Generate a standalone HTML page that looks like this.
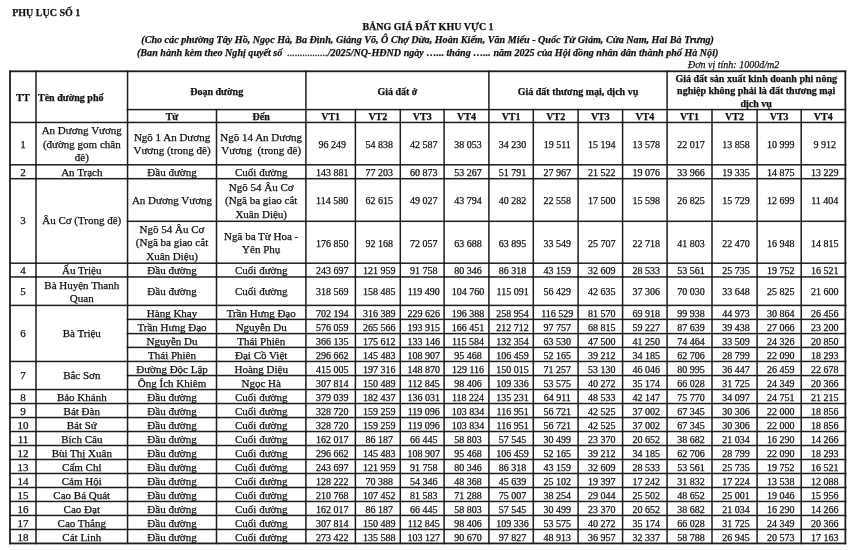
<!DOCTYPE html>
<html><head><meta charset="utf-8"><title>Bảng giá đất khu vực 1</title><style>
*{margin:0;padding:0;box-sizing:border-box}
html,body{width:855px;height:550px;overflow:hidden;background:#fff}
body{position:relative;font-family:"Liberation Serif",serif;color:#111;-webkit-text-stroke:0.25px #111}
#w{position:absolute;left:0;top:0;width:855px;height:550px;filter:grayscale(1)}
.l{position:absolute;background:#1e1e1e}
.c,.n,.h{position:absolute;text-align:center;white-space:nowrap}
.c{font-size:11px;line-height:13.5px}
.n{font-size:10px;line-height:13.5px;padding-left:3px}
.h{font-size:10px;line-height:12.4px;font-weight:bold}
.t{position:absolute;white-space:nowrap;font-size:10px;line-height:12px}
</style></head><body><div id="w">
<div class="t" style="left:12.2px;top:7.4px;font-weight:bold">PHỤ LỤC SỐ 1</div>
<div class="t" style="left:0;width:855px;text-align:center;top:21.3px;font-weight:bold;padding-left:1px">BẢNG GIÁ ĐẤT KHU VỰC 1</div>
<div class="t" style="left:141.3px;top:34.1px;font-weight:bold;font-style:italic;font-size:10.12px">(Cho các phường Tây Hồ, Ngọc Hà, Ba Đình, Giảng Võ, Ô Chợ Dừa, Hoàn Kiếm, Văn Miếu - Quốc Tử Giám, Cửa Nam, Hai Bà Trưng)</div>
<div class="t" style="left:137px;top:47.3px;font-weight:bold;font-style:italic;font-size:10.1px">(Ban hành kèm theo Nghị quyết số&nbsp; <span style="font-weight:normal">................</span>/2025/NQ-HĐND ngày …... tháng …... năm 2025 của Hội đồng nhân dân thành phố Hà Nội)</div>
<div class="t" style="left:688px;top:59.1px;font-style:italic">Đơn vị tính: 1000đ/m2</div>
<div class="h" style="left:10px;top:91.72px;width:26px;">TT</div>
<div class="h" style="left:36px;top:91.72px;width:91.55px;text-align:left;padding-left:2px">Tên đường phố</div>
<div class="h" style="left:127.55px;top:85.75px;width:178.35px;">Đoạn đường</div>
<div class="h" style="left:305.9px;top:85.75px;width:183px;">Giá đất ở</div>
<div class="h" style="left:488.9px;top:85.75px;width:178.2px;">Giá đất thương mại, dịch vụ</div>
<div class="h" style="left:667.1px;top:72.9px;width:178.25px;">Giá đất sản xuất kinh doanh phi nông<br>nghiệp không phải là đất thương mại<br>dịch vụ</div>
<div class="h" style="left:127.55px;top:110.88px;width:88.95px;">Từ</div>
<div class="h" style="left:216.5px;top:110.88px;width:89.4px;">Đến</div>
<div class="h" style="left:305.9px;top:110.88px;width:49.5px;">VT1</div>
<div class="h" style="left:355.4px;top:110.88px;width:44.9px;">VT2</div>
<div class="h" style="left:400.3px;top:110.88px;width:43.8px;">VT3</div>
<div class="h" style="left:444.1px;top:110.88px;width:44.8px;">VT4</div>
<div class="h" style="left:488.9px;top:110.88px;width:44.4px;">VT1</div>
<div class="h" style="left:533.3px;top:110.88px;width:44.8px;">VT2</div>
<div class="h" style="left:578.1px;top:110.88px;width:44.5px;">VT3</div>
<div class="h" style="left:622.6px;top:110.88px;width:44.5px;">VT4</div>
<div class="h" style="left:667.1px;top:110.88px;width:44.9px;">VT1</div>
<div class="h" style="left:712px;top:110.88px;width:45.1px;">VT2</div>
<div class="h" style="left:757.1px;top:110.88px;width:44.1px;">VT3</div>
<div class="h" style="left:801.2px;top:110.88px;width:44.15px;">VT4</div>
<div class="c" style="left:10px;top:137.72px;width:26px;">1</div>
<div class="c" style="left:36px;top:124.22px;width:91.55px;">An Dương Vương<br>(đường gom chân<br>đê)</div>
<div class="c" style="left:127.55px;top:130.97px;width:88.95px;">Ngõ 1 An Dương<br>Vương (trong đê)</div>
<div class="c" style="left:216.5px;top:130.97px;width:89.4px;">Ngõ 14 An Dương<br>Vương&nbsp; (trong đê)</div>
<div class="n" style="left:305.9px;top:137.93px;width:49.5px;">96 249</div>
<div class="n" style="left:355.4px;top:137.93px;width:44.9px;">54 838</div>
<div class="n" style="left:400.3px;top:137.93px;width:43.8px;">42 587</div>
<div class="n" style="left:444.1px;top:137.93px;width:44.8px;">38 053</div>
<div class="n" style="left:488.9px;top:137.93px;width:44.4px;">34 230</div>
<div class="n" style="left:533.3px;top:137.93px;width:44.8px;">19 511</div>
<div class="n" style="left:578.1px;top:137.93px;width:44.5px;">15 194</div>
<div class="n" style="left:622.6px;top:137.93px;width:44.5px;">13 578</div>
<div class="n" style="left:667.1px;top:137.93px;width:44.9px;">22 017</div>
<div class="n" style="left:712px;top:137.93px;width:45.1px;">13 858</div>
<div class="n" style="left:757.1px;top:137.93px;width:44.1px;">10 999</div>
<div class="n" style="left:801.2px;top:137.93px;width:44.15px;">9 912</div>
<div class="c" style="left:10px;top:165.85px;width:26px;">2</div>
<div class="c" style="left:36px;top:165.85px;width:91.55px;">An Trạch</div>
<div class="c" style="left:127.55px;top:165.85px;width:88.95px;">Đầu đường</div>
<div class="c" style="left:216.5px;top:165.85px;width:89.4px;">Cuối đường</div>
<div class="n" style="left:305.9px;top:166.05px;width:49.5px;">143 881</div>
<div class="n" style="left:355.4px;top:166.05px;width:44.9px;">77 203</div>
<div class="n" style="left:400.3px;top:166.05px;width:43.8px;">60 873</div>
<div class="n" style="left:444.1px;top:166.05px;width:44.8px;">53 267</div>
<div class="n" style="left:488.9px;top:166.05px;width:44.4px;">51 791</div>
<div class="n" style="left:533.3px;top:166.05px;width:44.8px;">27 967</div>
<div class="n" style="left:578.1px;top:166.05px;width:44.5px;">21 522</div>
<div class="n" style="left:622.6px;top:166.05px;width:44.5px;">19 076</div>
<div class="n" style="left:667.1px;top:166.05px;width:44.9px;">33 966</div>
<div class="n" style="left:712px;top:166.05px;width:45.1px;">19 335</div>
<div class="n" style="left:757.1px;top:166.05px;width:44.1px;">14 875</div>
<div class="n" style="left:801.2px;top:166.05px;width:44.15px;">13 229</div>
<div class="c" style="left:10px;top:214.2px;width:26px;">3</div>
<div class="c" style="left:36px;top:214.2px;width:91.55px;">Âu Cơ (Trong đê)</div>
<div class="c" style="left:127.55px;top:194.1px;width:88.95px;">An Dương Vương</div>
<div class="c" style="left:216.5px;top:180.6px;width:89.4px;">Ngõ 54 Âu Cơ<br>(Ngã ba giao cắt<br>Xuân Diệu)</div>
<div class="n" style="left:305.9px;top:194.3px;width:49.5px;">114 580</div>
<div class="n" style="left:355.4px;top:194.3px;width:44.9px;">62 615</div>
<div class="n" style="left:400.3px;top:194.3px;width:43.8px;">49 027</div>
<div class="n" style="left:444.1px;top:194.3px;width:44.8px;">43 794</div>
<div class="n" style="left:488.9px;top:194.3px;width:44.4px;">40 282</div>
<div class="n" style="left:533.3px;top:194.3px;width:44.8px;">22 558</div>
<div class="n" style="left:578.1px;top:194.3px;width:44.5px;">17 500</div>
<div class="n" style="left:622.6px;top:194.3px;width:44.5px;">15 598</div>
<div class="n" style="left:667.1px;top:194.3px;width:44.9px;">26 825</div>
<div class="n" style="left:712px;top:194.3px;width:45.1px;">15 729</div>
<div class="n" style="left:757.1px;top:194.3px;width:44.1px;">12 699</div>
<div class="n" style="left:801.2px;top:194.3px;width:44.15px;">11 404</div>
<div class="c" style="left:127.55px;top:222.85px;width:88.95px;">Ngõ 54 Âu Cơ<br>(Ngã ba giao cắt<br>Xuân Diệu)</div>
<div class="c" style="left:216.5px;top:229.6px;width:89.4px;">Ngã ba Từ Hoa -<br>Yên Phụ</div>
<div class="n" style="left:305.9px;top:236.55px;width:49.5px;">176 850</div>
<div class="n" style="left:355.4px;top:236.55px;width:44.9px;">92 168</div>
<div class="n" style="left:400.3px;top:236.55px;width:43.8px;">72 057</div>
<div class="n" style="left:444.1px;top:236.55px;width:44.8px;">63 688</div>
<div class="n" style="left:488.9px;top:236.55px;width:44.4px;">63 895</div>
<div class="n" style="left:533.3px;top:236.55px;width:44.8px;">33 549</div>
<div class="n" style="left:578.1px;top:236.55px;width:44.5px;">25 707</div>
<div class="n" style="left:622.6px;top:236.55px;width:44.5px;">22 718</div>
<div class="n" style="left:667.1px;top:236.55px;width:44.9px;">41 803</div>
<div class="n" style="left:712px;top:236.55px;width:45.1px;">22 470</div>
<div class="n" style="left:757.1px;top:236.55px;width:44.1px;">16 948</div>
<div class="n" style="left:801.2px;top:236.55px;width:44.15px;">14 815</div>
<div class="c" style="left:10px;top:264.18px;width:26px;">4</div>
<div class="c" style="left:36px;top:264.18px;width:91.55px;">Ấu Triệu</div>
<div class="c" style="left:127.55px;top:264.18px;width:88.95px;">Đầu đường</div>
<div class="c" style="left:216.5px;top:264.18px;width:89.4px;">Cuối đường</div>
<div class="n" style="left:305.9px;top:264.37px;width:49.5px;">243 697</div>
<div class="n" style="left:355.4px;top:264.37px;width:44.9px;">121 959</div>
<div class="n" style="left:400.3px;top:264.37px;width:43.8px;">91 758</div>
<div class="n" style="left:444.1px;top:264.37px;width:44.8px;">80 346</div>
<div class="n" style="left:488.9px;top:264.37px;width:44.4px;">86 318</div>
<div class="n" style="left:533.3px;top:264.37px;width:44.8px;">43 159</div>
<div class="n" style="left:578.1px;top:264.37px;width:44.5px;">32 609</div>
<div class="n" style="left:622.6px;top:264.37px;width:44.5px;">28 533</div>
<div class="n" style="left:667.1px;top:264.37px;width:44.9px;">53 561</div>
<div class="n" style="left:712px;top:264.37px;width:45.1px;">25 735</div>
<div class="n" style="left:757.1px;top:264.37px;width:44.1px;">19 752</div>
<div class="n" style="left:801.2px;top:264.37px;width:44.15px;">16 521</div>
<div class="c" style="left:10px;top:285.27px;width:26px;">5</div>
<div class="c" style="left:36px;top:278.52px;width:91.55px;">Bà Huyện Thanh<br>Quan</div>
<div class="c" style="left:127.55px;top:285.27px;width:88.95px;">Đầu đường</div>
<div class="c" style="left:216.5px;top:285.27px;width:89.4px;">Cuối đường</div>
<div class="n" style="left:305.9px;top:285.47px;width:49.5px;">318 569</div>
<div class="n" style="left:355.4px;top:285.47px;width:44.9px;">158 485</div>
<div class="n" style="left:400.3px;top:285.47px;width:43.8px;">119 490</div>
<div class="n" style="left:444.1px;top:285.47px;width:44.8px;">104 760</div>
<div class="n" style="left:488.9px;top:285.47px;width:44.4px;">115 091</div>
<div class="n" style="left:533.3px;top:285.47px;width:44.8px;">56 429</div>
<div class="n" style="left:578.1px;top:285.47px;width:44.5px;">42 635</div>
<div class="n" style="left:622.6px;top:285.47px;width:44.5px;">37 306</div>
<div class="n" style="left:667.1px;top:285.47px;width:44.9px;">70 030</div>
<div class="n" style="left:712px;top:285.47px;width:45.1px;">33 648</div>
<div class="n" style="left:757.1px;top:285.47px;width:44.1px;">25 825</div>
<div class="n" style="left:801.2px;top:285.47px;width:44.15px;">21 600</div>
<div class="c" style="left:10px;top:326.67px;width:26px;">6</div>
<div class="c" style="left:36px;top:326.67px;width:91.55px;">Bà Triệu</div>
<div class="c" style="left:127.55px;top:306.5px;width:88.95px;">Hàng Khay</div>
<div class="c" style="left:216.5px;top:306.5px;width:89.4px;">Trần Hưng Đạo</div>
<div class="n" style="left:305.9px;top:306.7px;width:49.5px;">702 194</div>
<div class="n" style="left:355.4px;top:306.7px;width:44.9px;">316 389</div>
<div class="n" style="left:400.3px;top:306.7px;width:43.8px;">229 626</div>
<div class="n" style="left:444.1px;top:306.7px;width:44.8px;">196 388</div>
<div class="n" style="left:488.9px;top:306.7px;width:44.4px;">258 954</div>
<div class="n" style="left:533.3px;top:306.7px;width:44.8px;">116 529</div>
<div class="n" style="left:578.1px;top:306.7px;width:44.5px;">81 570</div>
<div class="n" style="left:622.6px;top:306.7px;width:44.5px;">69 918</div>
<div class="n" style="left:667.1px;top:306.7px;width:44.9px;">99 938</div>
<div class="n" style="left:712px;top:306.7px;width:45.1px;">44 973</div>
<div class="n" style="left:757.1px;top:306.7px;width:44.1px;">30 864</div>
<div class="n" style="left:801.2px;top:306.7px;width:44.15px;">26 456</div>
<div class="c" style="left:127.55px;top:320.6px;width:88.95px;">Trần Hưng Đạo</div>
<div class="c" style="left:216.5px;top:320.6px;width:89.4px;">Nguyễn Du</div>
<div class="n" style="left:305.9px;top:320.8px;width:49.5px;">576 059</div>
<div class="n" style="left:355.4px;top:320.8px;width:44.9px;">265 566</div>
<div class="n" style="left:400.3px;top:320.8px;width:43.8px;">193 915</div>
<div class="n" style="left:444.1px;top:320.8px;width:44.8px;">166 451</div>
<div class="n" style="left:488.9px;top:320.8px;width:44.4px;">212 712</div>
<div class="n" style="left:533.3px;top:320.8px;width:44.8px;">97 757</div>
<div class="n" style="left:578.1px;top:320.8px;width:44.5px;">68 815</div>
<div class="n" style="left:622.6px;top:320.8px;width:44.5px;">59 227</div>
<div class="n" style="left:667.1px;top:320.8px;width:44.9px;">87 639</div>
<div class="n" style="left:712px;top:320.8px;width:45.1px;">39 438</div>
<div class="n" style="left:757.1px;top:320.8px;width:44.1px;">27 066</div>
<div class="n" style="left:801.2px;top:320.8px;width:44.15px;">23 200</div>
<div class="c" style="left:127.55px;top:334.6px;width:88.95px;">Nguyễn Du</div>
<div class="c" style="left:216.5px;top:334.6px;width:89.4px;">Thái Phiên</div>
<div class="n" style="left:305.9px;top:334.8px;width:49.5px;">366 135</div>
<div class="n" style="left:355.4px;top:334.8px;width:44.9px;">175 612</div>
<div class="n" style="left:400.3px;top:334.8px;width:43.8px;">133 146</div>
<div class="n" style="left:444.1px;top:334.8px;width:44.8px;">115 584</div>
<div class="n" style="left:488.9px;top:334.8px;width:44.4px;">132 354</div>
<div class="n" style="left:533.3px;top:334.8px;width:44.8px;">63 530</div>
<div class="n" style="left:578.1px;top:334.8px;width:44.5px;">47 500</div>
<div class="n" style="left:622.6px;top:334.8px;width:44.5px;">41 250</div>
<div class="n" style="left:667.1px;top:334.8px;width:44.9px;">74 464</div>
<div class="n" style="left:712px;top:334.8px;width:45.1px;">33 509</div>
<div class="n" style="left:757.1px;top:334.8px;width:44.1px;">24 326</div>
<div class="n" style="left:801.2px;top:334.8px;width:44.15px;">20 850</div>
<div class="c" style="left:127.55px;top:348.52px;width:88.95px;">Thái Phiên</div>
<div class="c" style="left:216.5px;top:348.52px;width:89.4px;">Đại Cồ Việt</div>
<div class="n" style="left:305.9px;top:348.72px;width:49.5px;">296 662</div>
<div class="n" style="left:355.4px;top:348.72px;width:44.9px;">145 483</div>
<div class="n" style="left:400.3px;top:348.72px;width:43.8px;">108 907</div>
<div class="n" style="left:444.1px;top:348.72px;width:44.8px;">95 468</div>
<div class="n" style="left:488.9px;top:348.72px;width:44.4px;">106 459</div>
<div class="n" style="left:533.3px;top:348.72px;width:44.8px;">52 165</div>
<div class="n" style="left:578.1px;top:348.72px;width:44.5px;">39 212</div>
<div class="n" style="left:622.6px;top:348.72px;width:44.5px;">34 185</div>
<div class="n" style="left:667.1px;top:348.72px;width:44.9px;">62 706</div>
<div class="n" style="left:712px;top:348.72px;width:45.1px;">28 799</div>
<div class="n" style="left:757.1px;top:348.72px;width:44.1px;">22 090</div>
<div class="n" style="left:801.2px;top:348.72px;width:44.15px;">18 293</div>
<div class="c" style="left:10px;top:368.75px;width:26px;">7</div>
<div class="c" style="left:36px;top:368.75px;width:91.55px;">Bắc Sơn</div>
<div class="c" style="left:127.55px;top:362.6px;width:88.95px;">Đường Độc Lập</div>
<div class="c" style="left:216.5px;top:362.6px;width:89.4px;">Hoàng Diệu</div>
<div class="n" style="left:305.9px;top:362.8px;width:49.5px;">415 005</div>
<div class="n" style="left:355.4px;top:362.8px;width:44.9px;">197 316</div>
<div class="n" style="left:400.3px;top:362.8px;width:43.8px;">148 870</div>
<div class="n" style="left:444.1px;top:362.8px;width:44.8px;">129 116</div>
<div class="n" style="left:488.9px;top:362.8px;width:44.4px;">150 015</div>
<div class="n" style="left:533.3px;top:362.8px;width:44.8px;">71 257</div>
<div class="n" style="left:578.1px;top:362.8px;width:44.5px;">53 130</div>
<div class="n" style="left:622.6px;top:362.8px;width:44.5px;">46 046</div>
<div class="n" style="left:667.1px;top:362.8px;width:44.9px;">80 995</div>
<div class="n" style="left:712px;top:362.8px;width:45.1px;">36 447</div>
<div class="n" style="left:757.1px;top:362.8px;width:44.1px;">26 459</div>
<div class="n" style="left:801.2px;top:362.8px;width:44.15px;">22 678</div>
<div class="c" style="left:127.55px;top:376.65px;width:88.95px;">Ông Ích Khiêm</div>
<div class="c" style="left:216.5px;top:376.65px;width:89.4px;">Ngọc Hà</div>
<div class="n" style="left:305.9px;top:376.85px;width:49.5px;">307 814</div>
<div class="n" style="left:355.4px;top:376.85px;width:44.9px;">150 489</div>
<div class="n" style="left:400.3px;top:376.85px;width:43.8px;">112 845</div>
<div class="n" style="left:444.1px;top:376.85px;width:44.8px;">98 406</div>
<div class="n" style="left:488.9px;top:376.85px;width:44.4px;">109 336</div>
<div class="n" style="left:533.3px;top:376.85px;width:44.8px;">53 575</div>
<div class="n" style="left:578.1px;top:376.85px;width:44.5px;">40 272</div>
<div class="n" style="left:622.6px;top:376.85px;width:44.5px;">35 174</div>
<div class="n" style="left:667.1px;top:376.85px;width:44.9px;">66 028</div>
<div class="n" style="left:712px;top:376.85px;width:45.1px;">31 725</div>
<div class="n" style="left:757.1px;top:376.85px;width:44.1px;">24 349</div>
<div class="n" style="left:801.2px;top:376.85px;width:44.15px;">20 366</div>
<div class="c" style="left:10px;top:390.65px;width:26px;">8</div>
<div class="c" style="left:36px;top:390.65px;width:91.55px;">Bảo Khánh</div>
<div class="c" style="left:127.55px;top:390.65px;width:88.95px;">Đầu đường</div>
<div class="c" style="left:216.5px;top:390.65px;width:89.4px;">Cuối đường</div>
<div class="n" style="left:305.9px;top:390.84px;width:49.5px;">379 039</div>
<div class="n" style="left:355.4px;top:390.84px;width:44.9px;">182 437</div>
<div class="n" style="left:400.3px;top:390.84px;width:43.8px;">136 031</div>
<div class="n" style="left:444.1px;top:390.84px;width:44.8px;">118 224</div>
<div class="n" style="left:488.9px;top:390.84px;width:44.4px;">135 231</div>
<div class="n" style="left:533.3px;top:390.84px;width:44.8px;">64 911</div>
<div class="n" style="left:578.1px;top:390.84px;width:44.5px;">48 533</div>
<div class="n" style="left:622.6px;top:390.84px;width:44.5px;">42 147</div>
<div class="n" style="left:667.1px;top:390.84px;width:44.9px;">75 770</div>
<div class="n" style="left:712px;top:390.84px;width:45.1px;">34 097</div>
<div class="n" style="left:757.1px;top:390.84px;width:44.1px;">24 751</div>
<div class="n" style="left:801.2px;top:390.84px;width:44.15px;">21 215</div>
<div class="c" style="left:10px;top:404.64px;width:26px;">9</div>
<div class="c" style="left:36px;top:404.64px;width:91.55px;">Bát Đàn</div>
<div class="c" style="left:127.55px;top:404.64px;width:88.95px;">Đầu đường</div>
<div class="c" style="left:216.5px;top:404.64px;width:89.4px;">Cuối đường</div>
<div class="n" style="left:305.9px;top:404.83px;width:49.5px;">328 720</div>
<div class="n" style="left:355.4px;top:404.83px;width:44.9px;">159 259</div>
<div class="n" style="left:400.3px;top:404.83px;width:43.8px;">119 096</div>
<div class="n" style="left:444.1px;top:404.83px;width:44.8px;">103 834</div>
<div class="n" style="left:488.9px;top:404.83px;width:44.4px;">116 951</div>
<div class="n" style="left:533.3px;top:404.83px;width:44.8px;">56 721</div>
<div class="n" style="left:578.1px;top:404.83px;width:44.5px;">42 525</div>
<div class="n" style="left:622.6px;top:404.83px;width:44.5px;">37 002</div>
<div class="n" style="left:667.1px;top:404.83px;width:44.9px;">67 345</div>
<div class="n" style="left:712px;top:404.83px;width:45.1px;">30 306</div>
<div class="n" style="left:757.1px;top:404.83px;width:44.1px;">22 000</div>
<div class="n" style="left:801.2px;top:404.83px;width:44.15px;">18 856</div>
<div class="c" style="left:10px;top:418.62px;width:26px;">10</div>
<div class="c" style="left:36px;top:418.62px;width:91.55px;">Bát Sứ</div>
<div class="c" style="left:127.55px;top:418.62px;width:88.95px;">Đầu đường</div>
<div class="c" style="left:216.5px;top:418.62px;width:89.4px;">Cuối đường</div>
<div class="n" style="left:305.9px;top:418.82px;width:49.5px;">328 720</div>
<div class="n" style="left:355.4px;top:418.82px;width:44.9px;">159 259</div>
<div class="n" style="left:400.3px;top:418.82px;width:43.8px;">119 096</div>
<div class="n" style="left:444.1px;top:418.82px;width:44.8px;">103 834</div>
<div class="n" style="left:488.9px;top:418.82px;width:44.4px;">116 951</div>
<div class="n" style="left:533.3px;top:418.82px;width:44.8px;">56 721</div>
<div class="n" style="left:578.1px;top:418.82px;width:44.5px;">42 525</div>
<div class="n" style="left:622.6px;top:418.82px;width:44.5px;">37 002</div>
<div class="n" style="left:667.1px;top:418.82px;width:44.9px;">67 345</div>
<div class="n" style="left:712px;top:418.82px;width:45.1px;">30 306</div>
<div class="n" style="left:757.1px;top:418.82px;width:44.1px;">22 000</div>
<div class="n" style="left:801.2px;top:418.82px;width:44.15px;">18 856</div>
<div class="c" style="left:10px;top:432.62px;width:26px;">11</div>
<div class="c" style="left:36px;top:432.62px;width:91.55px;">Bích Câu</div>
<div class="c" style="left:127.55px;top:432.62px;width:88.95px;">Đầu đường</div>
<div class="c" style="left:216.5px;top:432.62px;width:89.4px;">Cuối đường</div>
<div class="n" style="left:305.9px;top:432.81px;width:49.5px;">162 017</div>
<div class="n" style="left:355.4px;top:432.81px;width:44.9px;">86 187</div>
<div class="n" style="left:400.3px;top:432.81px;width:43.8px;">66 445</div>
<div class="n" style="left:444.1px;top:432.81px;width:44.8px;">58 803</div>
<div class="n" style="left:488.9px;top:432.81px;width:44.4px;">57 545</div>
<div class="n" style="left:533.3px;top:432.81px;width:44.8px;">30 499</div>
<div class="n" style="left:578.1px;top:432.81px;width:44.5px;">23 370</div>
<div class="n" style="left:622.6px;top:432.81px;width:44.5px;">20 652</div>
<div class="n" style="left:667.1px;top:432.81px;width:44.9px;">38 682</div>
<div class="n" style="left:712px;top:432.81px;width:45.1px;">21 034</div>
<div class="n" style="left:757.1px;top:432.81px;width:44.1px;">16 290</div>
<div class="n" style="left:801.2px;top:432.81px;width:44.15px;">14 266</div>
<div class="c" style="left:10px;top:446.61px;width:26px;">12</div>
<div class="c" style="left:36px;top:446.61px;width:91.55px;">Bùi Thị Xuân</div>
<div class="c" style="left:127.55px;top:446.61px;width:88.95px;">Đầu đường</div>
<div class="c" style="left:216.5px;top:446.61px;width:89.4px;">Cuối đường</div>
<div class="n" style="left:305.9px;top:446.8px;width:49.5px;">296 662</div>
<div class="n" style="left:355.4px;top:446.8px;width:44.9px;">145 483</div>
<div class="n" style="left:400.3px;top:446.8px;width:43.8px;">108 907</div>
<div class="n" style="left:444.1px;top:446.8px;width:44.8px;">95 468</div>
<div class="n" style="left:488.9px;top:446.8px;width:44.4px;">106 459</div>
<div class="n" style="left:533.3px;top:446.8px;width:44.8px;">52 165</div>
<div class="n" style="left:578.1px;top:446.8px;width:44.5px;">39 212</div>
<div class="n" style="left:622.6px;top:446.8px;width:44.5px;">34 185</div>
<div class="n" style="left:667.1px;top:446.8px;width:44.9px;">62 706</div>
<div class="n" style="left:712px;top:446.8px;width:45.1px;">28 799</div>
<div class="n" style="left:757.1px;top:446.8px;width:44.1px;">22 090</div>
<div class="n" style="left:801.2px;top:446.8px;width:44.15px;">18 293</div>
<div class="c" style="left:10px;top:460.6px;width:26px;">13</div>
<div class="c" style="left:36px;top:460.6px;width:91.55px;">Cấm Chỉ</div>
<div class="c" style="left:127.55px;top:460.6px;width:88.95px;">Đầu đường</div>
<div class="c" style="left:216.5px;top:460.6px;width:89.4px;">Cuối đường</div>
<div class="n" style="left:305.9px;top:460.79px;width:49.5px;">243 697</div>
<div class="n" style="left:355.4px;top:460.79px;width:44.9px;">121 959</div>
<div class="n" style="left:400.3px;top:460.79px;width:43.8px;">91 758</div>
<div class="n" style="left:444.1px;top:460.79px;width:44.8px;">80 346</div>
<div class="n" style="left:488.9px;top:460.79px;width:44.4px;">86 318</div>
<div class="n" style="left:533.3px;top:460.79px;width:44.8px;">43 159</div>
<div class="n" style="left:578.1px;top:460.79px;width:44.5px;">32 609</div>
<div class="n" style="left:622.6px;top:460.79px;width:44.5px;">28 533</div>
<div class="n" style="left:667.1px;top:460.79px;width:44.9px;">53 561</div>
<div class="n" style="left:712px;top:460.79px;width:45.1px;">25 735</div>
<div class="n" style="left:757.1px;top:460.79px;width:44.1px;">19 752</div>
<div class="n" style="left:801.2px;top:460.79px;width:44.15px;">16 521</div>
<div class="c" style="left:10px;top:474.59px;width:26px;">14</div>
<div class="c" style="left:36px;top:474.59px;width:91.55px;">Cảm Hội</div>
<div class="c" style="left:127.55px;top:474.59px;width:88.95px;">Đầu đường</div>
<div class="c" style="left:216.5px;top:474.59px;width:89.4px;">Cuối đường</div>
<div class="n" style="left:305.9px;top:474.78px;width:49.5px;">128 222</div>
<div class="n" style="left:355.4px;top:474.78px;width:44.9px;">70 388</div>
<div class="n" style="left:400.3px;top:474.78px;width:43.8px;">54 346</div>
<div class="n" style="left:444.1px;top:474.78px;width:44.8px;">48 368</div>
<div class="n" style="left:488.9px;top:474.78px;width:44.4px;">45 639</div>
<div class="n" style="left:533.3px;top:474.78px;width:44.8px;">25 102</div>
<div class="n" style="left:578.1px;top:474.78px;width:44.5px;">19 397</div>
<div class="n" style="left:622.6px;top:474.78px;width:44.5px;">17 242</div>
<div class="n" style="left:667.1px;top:474.78px;width:44.9px;">31 832</div>
<div class="n" style="left:712px;top:474.78px;width:45.1px;">17 224</div>
<div class="n" style="left:757.1px;top:474.78px;width:44.1px;">13 538</div>
<div class="n" style="left:801.2px;top:474.78px;width:44.15px;">12 088</div>
<div class="c" style="left:10px;top:488.58px;width:26px;">15</div>
<div class="c" style="left:36px;top:488.58px;width:91.55px;">Cao Bá Quát</div>
<div class="c" style="left:127.55px;top:488.58px;width:88.95px;">Đầu đường</div>
<div class="c" style="left:216.5px;top:488.58px;width:89.4px;">Cuối đường</div>
<div class="n" style="left:305.9px;top:488.77px;width:49.5px;">210 768</div>
<div class="n" style="left:355.4px;top:488.77px;width:44.9px;">107 452</div>
<div class="n" style="left:400.3px;top:488.77px;width:43.8px;">81 583</div>
<div class="n" style="left:444.1px;top:488.77px;width:44.8px;">71 288</div>
<div class="n" style="left:488.9px;top:488.77px;width:44.4px;">75 007</div>
<div class="n" style="left:533.3px;top:488.77px;width:44.8px;">38 254</div>
<div class="n" style="left:578.1px;top:488.77px;width:44.5px;">29 044</div>
<div class="n" style="left:622.6px;top:488.77px;width:44.5px;">25 502</div>
<div class="n" style="left:667.1px;top:488.77px;width:44.9px;">48 652</div>
<div class="n" style="left:712px;top:488.77px;width:45.1px;">25 001</div>
<div class="n" style="left:757.1px;top:488.77px;width:44.1px;">19 046</div>
<div class="n" style="left:801.2px;top:488.77px;width:44.15px;">15 956</div>
<div class="c" style="left:10px;top:502.57px;width:26px;">16</div>
<div class="c" style="left:36px;top:502.57px;width:91.55px;">Cao Đạt</div>
<div class="c" style="left:127.55px;top:502.57px;width:88.95px;">Đầu đường</div>
<div class="c" style="left:216.5px;top:502.57px;width:89.4px;">Cuối đường</div>
<div class="n" style="left:305.9px;top:502.76px;width:49.5px;">162 017</div>
<div class="n" style="left:355.4px;top:502.76px;width:44.9px;">86 187</div>
<div class="n" style="left:400.3px;top:502.76px;width:43.8px;">66 445</div>
<div class="n" style="left:444.1px;top:502.76px;width:44.8px;">58 803</div>
<div class="n" style="left:488.9px;top:502.76px;width:44.4px;">57 545</div>
<div class="n" style="left:533.3px;top:502.76px;width:44.8px;">30 499</div>
<div class="n" style="left:578.1px;top:502.76px;width:44.5px;">23 370</div>
<div class="n" style="left:622.6px;top:502.76px;width:44.5px;">20 652</div>
<div class="n" style="left:667.1px;top:502.76px;width:44.9px;">38 682</div>
<div class="n" style="left:712px;top:502.76px;width:45.1px;">21 034</div>
<div class="n" style="left:757.1px;top:502.76px;width:44.1px;">16 290</div>
<div class="n" style="left:801.2px;top:502.76px;width:44.15px;">14 266</div>
<div class="c" style="left:10px;top:516.56px;width:26px;">17</div>
<div class="c" style="left:36px;top:516.56px;width:91.55px;">Cao Thắng</div>
<div class="c" style="left:127.55px;top:516.56px;width:88.95px;">Đầu đường</div>
<div class="c" style="left:216.5px;top:516.56px;width:89.4px;">Cuối đường</div>
<div class="n" style="left:305.9px;top:516.75px;width:49.5px;">307 814</div>
<div class="n" style="left:355.4px;top:516.75px;width:44.9px;">150 489</div>
<div class="n" style="left:400.3px;top:516.75px;width:43.8px;">112 845</div>
<div class="n" style="left:444.1px;top:516.75px;width:44.8px;">98 406</div>
<div class="n" style="left:488.9px;top:516.75px;width:44.4px;">109 336</div>
<div class="n" style="left:533.3px;top:516.75px;width:44.8px;">53 575</div>
<div class="n" style="left:578.1px;top:516.75px;width:44.5px;">40 272</div>
<div class="n" style="left:622.6px;top:516.75px;width:44.5px;">35 174</div>
<div class="n" style="left:667.1px;top:516.75px;width:44.9px;">66 028</div>
<div class="n" style="left:712px;top:516.75px;width:45.1px;">31 725</div>
<div class="n" style="left:757.1px;top:516.75px;width:44.1px;">24 349</div>
<div class="n" style="left:801.2px;top:516.75px;width:44.15px;">20 366</div>
<div class="c" style="left:10px;top:530.55px;width:26px;">18</div>
<div class="c" style="left:36px;top:530.55px;width:91.55px;">Cát Linh</div>
<div class="c" style="left:127.55px;top:530.55px;width:88.95px;">Đầu đường</div>
<div class="c" style="left:216.5px;top:530.55px;width:89.4px;">Cuối đường</div>
<div class="n" style="left:305.9px;top:530.75px;width:49.5px;">273 422</div>
<div class="n" style="left:355.4px;top:530.75px;width:44.9px;">135 588</div>
<div class="n" style="left:400.3px;top:530.75px;width:43.8px;">103 127</div>
<div class="n" style="left:444.1px;top:530.75px;width:44.8px;">90 670</div>
<div class="n" style="left:488.9px;top:530.75px;width:44.4px;">97 827</div>
<div class="n" style="left:533.3px;top:530.75px;width:44.8px;">48 913</div>
<div class="n" style="left:578.1px;top:530.75px;width:44.5px;">36 957</div>
<div class="n" style="left:622.6px;top:530.75px;width:44.5px;">32 337</div>
<div class="n" style="left:667.1px;top:530.75px;width:44.9px;">58 788</div>
<div class="n" style="left:712px;top:530.75px;width:45.1px;">26 945</div>
<div class="n" style="left:757.1px;top:530.75px;width:44.1px;">20 573</div>
<div class="n" style="left:801.2px;top:530.75px;width:44.15px;">17 163</div>
<svg width="855" height="550" style="position:absolute;left:0;top:0" fill="#1e1e1e"><rect x="9.1" y="70.4" width="837.15" height="1.8"/><rect x="126.65" y="108.85" width="719.6" height="1.5"/><rect x="9.1" y="121.7" width="837.15" height="1.5"/><rect x="9.1" y="70.55" width="1.8" height="52.65"/><rect x="35.25" y="70.55" width="1.5" height="52.65"/><rect x="126.8" y="70.55" width="1.5" height="52.65"/><rect x="215.75" y="108.85" width="1.5" height="14.35"/><rect x="305.15" y="70.55" width="1.5" height="52.65"/><rect x="354.65" y="108.85" width="1.5" height="14.35"/><rect x="399.55" y="108.85" width="1.5" height="14.35"/><rect x="443.35" y="108.85" width="1.5" height="14.35"/><rect x="488.15" y="70.55" width="1.5" height="52.65"/><rect x="532.55" y="108.85" width="1.5" height="14.35"/><rect x="577.35" y="108.85" width="1.5" height="14.35"/><rect x="621.85" y="108.85" width="1.5" height="14.35"/><rect x="666.35" y="70.55" width="1.5" height="52.65"/><rect x="711.25" y="108.85" width="1.5" height="14.35"/><rect x="756.35" y="108.85" width="1.5" height="14.35"/><rect x="800.45" y="108.85" width="1.5" height="14.35"/><rect x="844.45" y="70.55" width="1.8" height="52.65"/><rect x="9.1" y="164.05" width="837.15" height="1.5"/><rect x="9.1" y="121.7" width="1.8" height="43.85"/><rect x="35.25" y="121.7" width="1.5" height="43.85"/><rect x="126.8" y="121.7" width="1.5" height="43.85"/><rect x="215.75" y="121.7" width="1.5" height="43.85"/><rect x="305.15" y="121.7" width="1.5" height="43.85"/><rect x="354.65" y="121.7" width="1.5" height="43.85"/><rect x="399.55" y="121.7" width="1.5" height="43.85"/><rect x="443.35" y="121.7" width="1.5" height="43.85"/><rect x="488.15" y="121.7" width="1.5" height="43.85"/><rect x="532.55" y="121.7" width="1.5" height="43.85"/><rect x="577.35" y="121.7" width="1.5" height="43.85"/><rect x="621.85" y="121.7" width="1.5" height="43.85"/><rect x="666.35" y="121.7" width="1.5" height="43.85"/><rect x="711.25" y="121.7" width="1.5" height="43.85"/><rect x="756.35" y="121.7" width="1.5" height="43.85"/><rect x="800.45" y="121.7" width="1.5" height="43.85"/><rect x="844.45" y="121.7" width="1.8" height="43.85"/><rect x="9.1" y="177.95" width="837.15" height="1.5"/><rect x="9.1" y="164.05" width="1.8" height="15.4"/><rect x="35.25" y="164.05" width="1.5" height="15.4"/><rect x="126.8" y="164.05" width="1.5" height="15.4"/><rect x="215.75" y="164.05" width="1.5" height="15.4"/><rect x="305.15" y="164.05" width="1.5" height="15.4"/><rect x="354.65" y="164.05" width="1.5" height="15.4"/><rect x="399.55" y="164.05" width="1.5" height="15.4"/><rect x="443.35" y="164.05" width="1.5" height="15.4"/><rect x="488.15" y="164.05" width="1.5" height="15.4"/><rect x="532.55" y="164.05" width="1.5" height="15.4"/><rect x="577.35" y="164.05" width="1.5" height="15.4"/><rect x="621.85" y="164.05" width="1.5" height="15.4"/><rect x="666.35" y="164.05" width="1.5" height="15.4"/><rect x="711.25" y="164.05" width="1.5" height="15.4"/><rect x="756.35" y="164.05" width="1.5" height="15.4"/><rect x="800.45" y="164.05" width="1.5" height="15.4"/><rect x="844.45" y="164.05" width="1.8" height="15.4"/><rect x="9.1" y="262.45" width="837.15" height="1.5"/><rect x="126.65" y="220.55" width="719.6" height="1.5"/><rect x="9.1" y="177.95" width="1.8" height="86"/><rect x="35.25" y="177.95" width="1.5" height="86"/><rect x="126.8" y="177.95" width="1.5" height="86"/><rect x="215.75" y="177.95" width="1.5" height="86"/><rect x="305.15" y="177.95" width="1.5" height="86"/><rect x="354.65" y="177.95" width="1.5" height="86"/><rect x="399.55" y="177.95" width="1.5" height="86"/><rect x="443.35" y="177.95" width="1.5" height="86"/><rect x="488.15" y="177.95" width="1.5" height="86"/><rect x="532.55" y="177.95" width="1.5" height="86"/><rect x="577.35" y="177.95" width="1.5" height="86"/><rect x="621.85" y="177.95" width="1.5" height="86"/><rect x="666.35" y="177.95" width="1.5" height="86"/><rect x="711.25" y="177.95" width="1.5" height="86"/><rect x="756.35" y="177.95" width="1.5" height="86"/><rect x="800.45" y="177.95" width="1.5" height="86"/><rect x="844.45" y="177.95" width="1.8" height="86"/><rect x="9.1" y="276.2" width="837.15" height="1.5"/><rect x="9.1" y="262.45" width="1.8" height="15.25"/><rect x="35.25" y="262.45" width="1.5" height="15.25"/><rect x="126.8" y="262.45" width="1.5" height="15.25"/><rect x="215.75" y="262.45" width="1.5" height="15.25"/><rect x="305.15" y="262.45" width="1.5" height="15.25"/><rect x="354.65" y="262.45" width="1.5" height="15.25"/><rect x="399.55" y="262.45" width="1.5" height="15.25"/><rect x="443.35" y="262.45" width="1.5" height="15.25"/><rect x="488.15" y="262.45" width="1.5" height="15.25"/><rect x="532.55" y="262.45" width="1.5" height="15.25"/><rect x="577.35" y="262.45" width="1.5" height="15.25"/><rect x="621.85" y="262.45" width="1.5" height="15.25"/><rect x="666.35" y="262.45" width="1.5" height="15.25"/><rect x="711.25" y="262.45" width="1.5" height="15.25"/><rect x="756.35" y="262.45" width="1.5" height="15.25"/><rect x="800.45" y="262.45" width="1.5" height="15.25"/><rect x="844.45" y="262.45" width="1.8" height="15.25"/><rect x="9.1" y="304.65" width="837.15" height="1.5"/><rect x="9.1" y="276.2" width="1.8" height="29.95"/><rect x="35.25" y="276.2" width="1.5" height="29.95"/><rect x="126.8" y="276.2" width="1.5" height="29.95"/><rect x="215.75" y="276.2" width="1.5" height="29.95"/><rect x="305.15" y="276.2" width="1.5" height="29.95"/><rect x="354.65" y="276.2" width="1.5" height="29.95"/><rect x="399.55" y="276.2" width="1.5" height="29.95"/><rect x="443.35" y="276.2" width="1.5" height="29.95"/><rect x="488.15" y="276.2" width="1.5" height="29.95"/><rect x="532.55" y="276.2" width="1.5" height="29.95"/><rect x="577.35" y="276.2" width="1.5" height="29.95"/><rect x="621.85" y="276.2" width="1.5" height="29.95"/><rect x="666.35" y="276.2" width="1.5" height="29.95"/><rect x="711.25" y="276.2" width="1.5" height="29.95"/><rect x="756.35" y="276.2" width="1.5" height="29.95"/><rect x="800.45" y="276.2" width="1.5" height="29.95"/><rect x="844.45" y="276.2" width="1.8" height="29.95"/><rect x="9.1" y="360.7" width="837.15" height="1.5"/><rect x="126.65" y="318.65" width="719.6" height="1.5"/><rect x="126.65" y="332.85" width="719.6" height="1.5"/><rect x="126.65" y="346.65" width="719.6" height="1.5"/><rect x="9.1" y="304.65" width="1.8" height="57.55"/><rect x="35.25" y="304.65" width="1.5" height="57.55"/><rect x="126.8" y="304.65" width="1.5" height="57.55"/><rect x="215.75" y="304.65" width="1.5" height="57.55"/><rect x="305.15" y="304.65" width="1.5" height="57.55"/><rect x="354.65" y="304.65" width="1.5" height="57.55"/><rect x="399.55" y="304.65" width="1.5" height="57.55"/><rect x="443.35" y="304.65" width="1.5" height="57.55"/><rect x="488.15" y="304.65" width="1.5" height="57.55"/><rect x="532.55" y="304.65" width="1.5" height="57.55"/><rect x="577.35" y="304.65" width="1.5" height="57.55"/><rect x="621.85" y="304.65" width="1.5" height="57.55"/><rect x="666.35" y="304.65" width="1.5" height="57.55"/><rect x="711.25" y="304.65" width="1.5" height="57.55"/><rect x="756.35" y="304.65" width="1.5" height="57.55"/><rect x="800.45" y="304.65" width="1.5" height="57.55"/><rect x="844.45" y="304.65" width="1.8" height="57.55"/><rect x="9.1" y="388.8" width="837.15" height="1.5"/><rect x="126.65" y="374.8" width="719.6" height="1.5"/><rect x="9.1" y="360.7" width="1.8" height="29.6"/><rect x="35.25" y="360.7" width="1.5" height="29.6"/><rect x="126.8" y="360.7" width="1.5" height="29.6"/><rect x="215.75" y="360.7" width="1.5" height="29.6"/><rect x="305.15" y="360.7" width="1.5" height="29.6"/><rect x="354.65" y="360.7" width="1.5" height="29.6"/><rect x="399.55" y="360.7" width="1.5" height="29.6"/><rect x="443.35" y="360.7" width="1.5" height="29.6"/><rect x="488.15" y="360.7" width="1.5" height="29.6"/><rect x="532.55" y="360.7" width="1.5" height="29.6"/><rect x="577.35" y="360.7" width="1.5" height="29.6"/><rect x="621.85" y="360.7" width="1.5" height="29.6"/><rect x="666.35" y="360.7" width="1.5" height="29.6"/><rect x="711.25" y="360.7" width="1.5" height="29.6"/><rect x="756.35" y="360.7" width="1.5" height="29.6"/><rect x="800.45" y="360.7" width="1.5" height="29.6"/><rect x="844.45" y="360.7" width="1.8" height="29.6"/><rect x="9.1" y="402.79" width="837.15" height="1.5"/><rect x="9.1" y="388.8" width="1.8" height="15.49"/><rect x="35.25" y="388.8" width="1.5" height="15.49"/><rect x="126.8" y="388.8" width="1.5" height="15.49"/><rect x="215.75" y="388.8" width="1.5" height="15.49"/><rect x="305.15" y="388.8" width="1.5" height="15.49"/><rect x="354.65" y="388.8" width="1.5" height="15.49"/><rect x="399.55" y="388.8" width="1.5" height="15.49"/><rect x="443.35" y="388.8" width="1.5" height="15.49"/><rect x="488.15" y="388.8" width="1.5" height="15.49"/><rect x="532.55" y="388.8" width="1.5" height="15.49"/><rect x="577.35" y="388.8" width="1.5" height="15.49"/><rect x="621.85" y="388.8" width="1.5" height="15.49"/><rect x="666.35" y="388.8" width="1.5" height="15.49"/><rect x="711.25" y="388.8" width="1.5" height="15.49"/><rect x="756.35" y="388.8" width="1.5" height="15.49"/><rect x="800.45" y="388.8" width="1.5" height="15.49"/><rect x="844.45" y="388.8" width="1.8" height="15.49"/><rect x="9.1" y="416.78" width="837.15" height="1.5"/><rect x="9.1" y="402.79" width="1.8" height="15.49"/><rect x="35.25" y="402.79" width="1.5" height="15.49"/><rect x="126.8" y="402.79" width="1.5" height="15.49"/><rect x="215.75" y="402.79" width="1.5" height="15.49"/><rect x="305.15" y="402.79" width="1.5" height="15.49"/><rect x="354.65" y="402.79" width="1.5" height="15.49"/><rect x="399.55" y="402.79" width="1.5" height="15.49"/><rect x="443.35" y="402.79" width="1.5" height="15.49"/><rect x="488.15" y="402.79" width="1.5" height="15.49"/><rect x="532.55" y="402.79" width="1.5" height="15.49"/><rect x="577.35" y="402.79" width="1.5" height="15.49"/><rect x="621.85" y="402.79" width="1.5" height="15.49"/><rect x="666.35" y="402.79" width="1.5" height="15.49"/><rect x="711.25" y="402.79" width="1.5" height="15.49"/><rect x="756.35" y="402.79" width="1.5" height="15.49"/><rect x="800.45" y="402.79" width="1.5" height="15.49"/><rect x="844.45" y="402.79" width="1.8" height="15.49"/><rect x="9.1" y="430.77" width="837.15" height="1.5"/><rect x="9.1" y="416.78" width="1.8" height="15.49"/><rect x="35.25" y="416.78" width="1.5" height="15.49"/><rect x="126.8" y="416.78" width="1.5" height="15.49"/><rect x="215.75" y="416.78" width="1.5" height="15.49"/><rect x="305.15" y="416.78" width="1.5" height="15.49"/><rect x="354.65" y="416.78" width="1.5" height="15.49"/><rect x="399.55" y="416.78" width="1.5" height="15.49"/><rect x="443.35" y="416.78" width="1.5" height="15.49"/><rect x="488.15" y="416.78" width="1.5" height="15.49"/><rect x="532.55" y="416.78" width="1.5" height="15.49"/><rect x="577.35" y="416.78" width="1.5" height="15.49"/><rect x="621.85" y="416.78" width="1.5" height="15.49"/><rect x="666.35" y="416.78" width="1.5" height="15.49"/><rect x="711.25" y="416.78" width="1.5" height="15.49"/><rect x="756.35" y="416.78" width="1.5" height="15.49"/><rect x="800.45" y="416.78" width="1.5" height="15.49"/><rect x="844.45" y="416.78" width="1.8" height="15.49"/><rect x="9.1" y="444.76" width="837.15" height="1.5"/><rect x="9.1" y="430.77" width="1.8" height="15.49"/><rect x="35.25" y="430.77" width="1.5" height="15.49"/><rect x="126.8" y="430.77" width="1.5" height="15.49"/><rect x="215.75" y="430.77" width="1.5" height="15.49"/><rect x="305.15" y="430.77" width="1.5" height="15.49"/><rect x="354.65" y="430.77" width="1.5" height="15.49"/><rect x="399.55" y="430.77" width="1.5" height="15.49"/><rect x="443.35" y="430.77" width="1.5" height="15.49"/><rect x="488.15" y="430.77" width="1.5" height="15.49"/><rect x="532.55" y="430.77" width="1.5" height="15.49"/><rect x="577.35" y="430.77" width="1.5" height="15.49"/><rect x="621.85" y="430.77" width="1.5" height="15.49"/><rect x="666.35" y="430.77" width="1.5" height="15.49"/><rect x="711.25" y="430.77" width="1.5" height="15.49"/><rect x="756.35" y="430.77" width="1.5" height="15.49"/><rect x="800.45" y="430.77" width="1.5" height="15.49"/><rect x="844.45" y="430.77" width="1.8" height="15.49"/><rect x="9.1" y="458.75" width="837.15" height="1.5"/><rect x="9.1" y="444.76" width="1.8" height="15.49"/><rect x="35.25" y="444.76" width="1.5" height="15.49"/><rect x="126.8" y="444.76" width="1.5" height="15.49"/><rect x="215.75" y="444.76" width="1.5" height="15.49"/><rect x="305.15" y="444.76" width="1.5" height="15.49"/><rect x="354.65" y="444.76" width="1.5" height="15.49"/><rect x="399.55" y="444.76" width="1.5" height="15.49"/><rect x="443.35" y="444.76" width="1.5" height="15.49"/><rect x="488.15" y="444.76" width="1.5" height="15.49"/><rect x="532.55" y="444.76" width="1.5" height="15.49"/><rect x="577.35" y="444.76" width="1.5" height="15.49"/><rect x="621.85" y="444.76" width="1.5" height="15.49"/><rect x="666.35" y="444.76" width="1.5" height="15.49"/><rect x="711.25" y="444.76" width="1.5" height="15.49"/><rect x="756.35" y="444.76" width="1.5" height="15.49"/><rect x="800.45" y="444.76" width="1.5" height="15.49"/><rect x="844.45" y="444.76" width="1.8" height="15.49"/><rect x="9.1" y="472.74" width="837.15" height="1.5"/><rect x="9.1" y="458.75" width="1.8" height="15.49"/><rect x="35.25" y="458.75" width="1.5" height="15.49"/><rect x="126.8" y="458.75" width="1.5" height="15.49"/><rect x="215.75" y="458.75" width="1.5" height="15.49"/><rect x="305.15" y="458.75" width="1.5" height="15.49"/><rect x="354.65" y="458.75" width="1.5" height="15.49"/><rect x="399.55" y="458.75" width="1.5" height="15.49"/><rect x="443.35" y="458.75" width="1.5" height="15.49"/><rect x="488.15" y="458.75" width="1.5" height="15.49"/><rect x="532.55" y="458.75" width="1.5" height="15.49"/><rect x="577.35" y="458.75" width="1.5" height="15.49"/><rect x="621.85" y="458.75" width="1.5" height="15.49"/><rect x="666.35" y="458.75" width="1.5" height="15.49"/><rect x="711.25" y="458.75" width="1.5" height="15.49"/><rect x="756.35" y="458.75" width="1.5" height="15.49"/><rect x="800.45" y="458.75" width="1.5" height="15.49"/><rect x="844.45" y="458.75" width="1.8" height="15.49"/><rect x="9.1" y="486.73" width="837.15" height="1.5"/><rect x="9.1" y="472.74" width="1.8" height="15.49"/><rect x="35.25" y="472.74" width="1.5" height="15.49"/><rect x="126.8" y="472.74" width="1.5" height="15.49"/><rect x="215.75" y="472.74" width="1.5" height="15.49"/><rect x="305.15" y="472.74" width="1.5" height="15.49"/><rect x="354.65" y="472.74" width="1.5" height="15.49"/><rect x="399.55" y="472.74" width="1.5" height="15.49"/><rect x="443.35" y="472.74" width="1.5" height="15.49"/><rect x="488.15" y="472.74" width="1.5" height="15.49"/><rect x="532.55" y="472.74" width="1.5" height="15.49"/><rect x="577.35" y="472.74" width="1.5" height="15.49"/><rect x="621.85" y="472.74" width="1.5" height="15.49"/><rect x="666.35" y="472.74" width="1.5" height="15.49"/><rect x="711.25" y="472.74" width="1.5" height="15.49"/><rect x="756.35" y="472.74" width="1.5" height="15.49"/><rect x="800.45" y="472.74" width="1.5" height="15.49"/><rect x="844.45" y="472.74" width="1.8" height="15.49"/><rect x="9.1" y="500.72" width="837.15" height="1.5"/><rect x="9.1" y="486.73" width="1.8" height="15.49"/><rect x="35.25" y="486.73" width="1.5" height="15.49"/><rect x="126.8" y="486.73" width="1.5" height="15.49"/><rect x="215.75" y="486.73" width="1.5" height="15.49"/><rect x="305.15" y="486.73" width="1.5" height="15.49"/><rect x="354.65" y="486.73" width="1.5" height="15.49"/><rect x="399.55" y="486.73" width="1.5" height="15.49"/><rect x="443.35" y="486.73" width="1.5" height="15.49"/><rect x="488.15" y="486.73" width="1.5" height="15.49"/><rect x="532.55" y="486.73" width="1.5" height="15.49"/><rect x="577.35" y="486.73" width="1.5" height="15.49"/><rect x="621.85" y="486.73" width="1.5" height="15.49"/><rect x="666.35" y="486.73" width="1.5" height="15.49"/><rect x="711.25" y="486.73" width="1.5" height="15.49"/><rect x="756.35" y="486.73" width="1.5" height="15.49"/><rect x="800.45" y="486.73" width="1.5" height="15.49"/><rect x="844.45" y="486.73" width="1.8" height="15.49"/><rect x="9.1" y="514.71" width="837.15" height="1.5"/><rect x="9.1" y="500.72" width="1.8" height="15.49"/><rect x="35.25" y="500.72" width="1.5" height="15.49"/><rect x="126.8" y="500.72" width="1.5" height="15.49"/><rect x="215.75" y="500.72" width="1.5" height="15.49"/><rect x="305.15" y="500.72" width="1.5" height="15.49"/><rect x="354.65" y="500.72" width="1.5" height="15.49"/><rect x="399.55" y="500.72" width="1.5" height="15.49"/><rect x="443.35" y="500.72" width="1.5" height="15.49"/><rect x="488.15" y="500.72" width="1.5" height="15.49"/><rect x="532.55" y="500.72" width="1.5" height="15.49"/><rect x="577.35" y="500.72" width="1.5" height="15.49"/><rect x="621.85" y="500.72" width="1.5" height="15.49"/><rect x="666.35" y="500.72" width="1.5" height="15.49"/><rect x="711.25" y="500.72" width="1.5" height="15.49"/><rect x="756.35" y="500.72" width="1.5" height="15.49"/><rect x="800.45" y="500.72" width="1.5" height="15.49"/><rect x="844.45" y="500.72" width="1.8" height="15.49"/><rect x="9.1" y="528.7" width="837.15" height="1.5"/><rect x="9.1" y="514.71" width="1.8" height="15.49"/><rect x="35.25" y="514.71" width="1.5" height="15.49"/><rect x="126.8" y="514.71" width="1.5" height="15.49"/><rect x="215.75" y="514.71" width="1.5" height="15.49"/><rect x="305.15" y="514.71" width="1.5" height="15.49"/><rect x="354.65" y="514.71" width="1.5" height="15.49"/><rect x="399.55" y="514.71" width="1.5" height="15.49"/><rect x="443.35" y="514.71" width="1.5" height="15.49"/><rect x="488.15" y="514.71" width="1.5" height="15.49"/><rect x="532.55" y="514.71" width="1.5" height="15.49"/><rect x="577.35" y="514.71" width="1.5" height="15.49"/><rect x="621.85" y="514.71" width="1.5" height="15.49"/><rect x="666.35" y="514.71" width="1.5" height="15.49"/><rect x="711.25" y="514.71" width="1.5" height="15.49"/><rect x="756.35" y="514.71" width="1.5" height="15.49"/><rect x="800.45" y="514.71" width="1.5" height="15.49"/><rect x="844.45" y="514.71" width="1.8" height="15.49"/><rect x="9.1" y="542.54" width="837.15" height="1.8"/><rect x="9.1" y="528.7" width="1.8" height="15.49"/><rect x="35.25" y="528.7" width="1.5" height="15.49"/><rect x="126.8" y="528.7" width="1.5" height="15.49"/><rect x="215.75" y="528.7" width="1.5" height="15.49"/><rect x="305.15" y="528.7" width="1.5" height="15.49"/><rect x="354.65" y="528.7" width="1.5" height="15.49"/><rect x="399.55" y="528.7" width="1.5" height="15.49"/><rect x="443.35" y="528.7" width="1.5" height="15.49"/><rect x="488.15" y="528.7" width="1.5" height="15.49"/><rect x="532.55" y="528.7" width="1.5" height="15.49"/><rect x="577.35" y="528.7" width="1.5" height="15.49"/><rect x="621.85" y="528.7" width="1.5" height="15.49"/><rect x="666.35" y="528.7" width="1.5" height="15.49"/><rect x="711.25" y="528.7" width="1.5" height="15.49"/><rect x="756.35" y="528.7" width="1.5" height="15.49"/><rect x="800.45" y="528.7" width="1.5" height="15.49"/><rect x="844.45" y="528.7" width="1.8" height="15.49"/></svg></div></body></html>
